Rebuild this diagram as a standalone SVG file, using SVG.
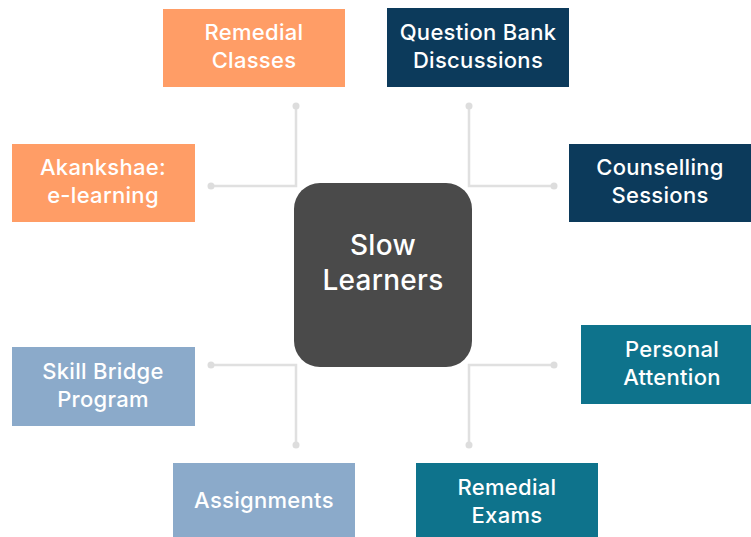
<svg xmlns="http://www.w3.org/2000/svg" width="751" height="537" viewBox="0 0 751 537">
<style>
.box text{font-family:Inter,"Open Sans",sans-serif;font-weight:500;font-size:22px;fill:#fff;text-anchor:middle;letter-spacing:0.3px}
.box text.big{font-size:28px}
.orange{fill:#FF9D66}
.navy{fill:#0C3A5B}
.teal{fill:#0E738C}
.light{fill:#8BAACA}
.conn path{fill:none;stroke:#E0E0E0;stroke-width:2.5}
.conn circle{fill:#DDDDDD}
</style>
<rect width="751" height="537" fill="#fff"/>
<g id="connectors" class="conn">
<path d="M296 106V186H211"/><circle cx="296" cy="106" r="3.5"/><circle cx="211" cy="186" r="3.5"/>
<path d="M469 106V186H554"/><circle cx="469" cy="106" r="3.5"/><circle cx="554" cy="186" r="3.5"/>
<path d="M211 365H296V445"/><circle cx="211" cy="365" r="3.5"/><circle cx="296" cy="445" r="3.5"/>
<path d="M554 365H469V445"/><circle cx="554" cy="365" r="3.5"/><circle cx="469" cy="445" r="3.5"/>
</g>
<g id="center" class="box">
<rect x="294" y="183" width="178" height="184" rx="26" fill="#4A4A4A"/>
<text class="big" x="383" y="255">Slow</text>
<text class="big" x="383" y="290">Learners</text>
</g>
<g id="remedial-classes" class="box">
<rect class="orange" x="163" y="9" width="182" height="78"/>
<text x="254" y="40">Remedial</text><text x="254" y="68">Classes</text>
</g>
<g id="question-bank" class="box">
<rect class="navy" x="387" y="8" width="182" height="79"/>
<text x="478" y="40">Question Bank</text><text x="478" y="68">Discussions</text>
</g>
<g id="akankshae" class="box">
<rect class="orange" x="12" y="144" width="183" height="78"/>
<text x="103" y="175">Akankshae:</text><text x="103" y="203">e-learning</text>
</g>
<g id="counselling" class="box">
<rect class="navy" x="569" y="144" width="182" height="78"/>
<text x="660" y="175">Counselling</text><text x="660" y="203">Sessions</text>
</g>
<g id="skill-bridge" class="box">
<rect class="light" x="12" y="347" width="183" height="79"/>
<text x="103" y="379">Skill Bridge</text><text x="103" y="407">Program</text>
</g>
<g id="personal-attention" class="box">
<rect class="teal" x="581" y="325" width="170" height="79"/>
<text x="672" y="357">Personal</text><text x="672" y="385">Attention</text>
</g>
<g id="assignments" class="box">
<rect class="light" x="173" y="463" width="182" height="74"/>
<text x="264" y="508">Assignments</text>
</g>
<g id="remedial-exams" class="box">
<rect class="teal" x="416" y="463" width="182" height="74"/>
<text x="507" y="495">Remedial</text><text x="507" y="523">Exams</text>
</g>
</svg>
